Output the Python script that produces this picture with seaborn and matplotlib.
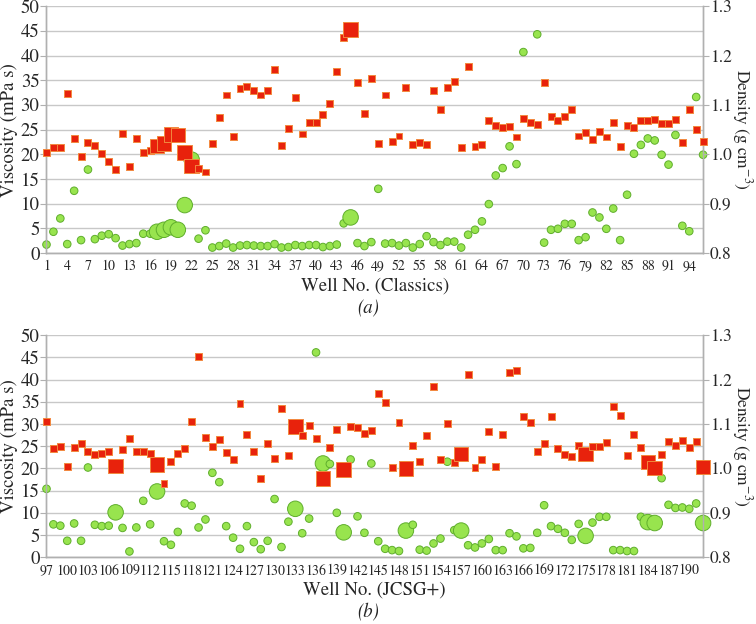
import numpy as np
import pandas as pd
import matplotlib
matplotlib.use("Agg")
import matplotlib.pyplot as plt
import seaborn as sns

sns.set_style("white")
plt.rcParams['font.family'] = ['STIXGeneral', 'DejaVu Serif']
plt.rcParams['mathtext.fontset'] = 'stix'

# Classics screen, wells 1-96
wells_a = list(range(1, 97))
visc_a = [1.7, 4.3, 7.0, 1.8, 12.6, 2.6, 16.9, 2.8, 3.5, 3.8,
          3.0, 1.5, 1.8, 2.0, 3.9, 3.9, 4.3, 4.7, 5.2, 4.7,
          9.7, 18.9, 2.9, 4.6, 1.1, 1.4, 1.9, 1.1, 1.5, 1.6,
          1.5, 1.4, 1.4, 1.8, 1.1, 1.2, 1.6, 1.4, 1.6, 1.6,
          1.2, 1.4, 1.7, 6.0, 7.2, 2.0, 1.4, 2.2, 13.0, 1.9,
          2.0, 1.5, 2.0, 1.1, 1.8, 3.4, 2.2, 1.6, 2.3, 2.3,
          1.1, 3.7, 4.7, 6.4, 9.9, 15.7, 17.2, 21.6, 18.0, 40.7,
          np.nan, 44.3, 2.1, 4.7, 4.9, 5.9, 5.9, 2.6, 3.2, 8.2,
          7.2, 4.9, 9.0, 2.6, 11.8, 20.1, 21.9, 23.2, 22.8, 19.9,
          17.9, 23.9, 5.5, 4.4, 31.6, 19.9]
dens_a = [1.003, 1.014, 1.014, 1.124, 1.031, 0.995, 1.024, 1.018, 1.001, 0.986,
          0.969, 1.043, 0.976, 1.032, 1.003, 1.008, 1.017, 1.022, 1.040, 1.039,
          1.003, 0.976, 0.971, 0.964, 1.022, 1.075, 1.120, 1.036, 1.134, 1.138,
          1.130, 1.120, 1.130, 1.172, 1.018, 1.052, 1.115, 1.041, 1.064, 1.064,
          1.081, 1.103, 1.168, 1.236, 1.253, 1.145, 1.083, 1.153, 1.022, 1.120,
          1.026, 1.037, 1.135, 1.020, 1.024, 1.019, 1.130, 1.091, 1.136, 1.147,
          1.013, 1.178, 1.016, 1.020, 1.068, 1.059, 1.055, 1.056, 1.035, 1.072,
          1.065, 1.061, 1.145, 1.076, 1.069, 1.076, 1.090, 1.037, 1.044, 1.030,
          1.047, 1.035, 1.064, 1.016, 1.059, 1.054, 1.068, 1.068, 1.071, 1.063,
          1.063, 1.070, 1.023, 1.091, 1.050, 1.026]
big_a = [17, 18, 19, 20, 21, 22, 45]

# JCSG+ screen, wells 97-192
wells_b = list(range(97, 193))
visc_b = [15.4, 7.4, 7.1, 3.7, 7.6, 3.7, 20.2, 7.3, 7.0, 7.1,
          10.1, 6.6, 1.3, 6.7, 12.7, 7.4, 14.8, 3.6, 2.8, 5.7,
          12.1, 11.6, 6.7, 8.5, 19.0, 16.9, 7.0, 4.4, 1.9, 7.0,
          3.4, 1.8, 3.7, 13.1, 2.3, 8.0, 10.9, 5.4, 8.7, 46.1,
          21.1, 21.0, 10.0, 5.6, 22.0, 9.2, 5.5, 21.1, 3.6, 1.9,
          1.6, 1.4, 6.0, 7.3, 1.7, 1.5, 3.1, 4.2, 21.5, 6.1,
          6.0, 2.7, 2.2, 3.1, 4.1, 1.6, 1.6, 5.4, 4.7, 2.0,
          2.1, 5.5, 11.7, 7.0, 6.4, 5.5, 3.9, 7.5, 4.8, 7.8,
          9.1, 9.1, 1.6, 1.6, 1.4, 1.4, 9.1, 7.9, 7.7, 17.8,
          11.8, 11.1, 11.2, 10.9, 12.1, 7.7]
dens_b = [1.105, 1.044, 1.050, 1.004, 1.046, 1.057, 1.038, 1.032, 1.034, 1.039,
          1.005, 1.042, 1.068, 1.038, 1.038, 1.033, 1.009, 0.965, 1.015, 1.034,
          1.044, 1.105, 1.251, 1.069, 1.049, 1.066, 1.035, 1.021, 1.146, 1.077,
          1.038, 0.978, 1.057, 1.022, 1.135, 1.030, 1.094, 1.075, 1.097, 1.068,
          0.977, 1.047, 1.088, 0.998, 1.094, 1.092, 1.079, 1.085, 1.168, 1.148,
          1.001, 1.104, 1.000, 1.052, 1.016, 1.074, 1.184, 1.021, 1.100, 1.014,
          1.032, 1.212, 1.001, 1.020, 1.083, 1.004, 1.077, 1.215, 1.221, 1.116,
          1.104, 1.038, 1.056, 1.117, 1.044, 1.032, 1.027, 1.051, 1.032, 1.049,
          1.050, 1.058, 1.139, 1.119, 1.028, 1.077, 1.046, 1.014, 1.001, 1.032,
          1.060, 1.052, 1.063, 1.048, 1.061, 1.003]
big_b = [107, 113, 133, 137, 140, 149, 157, 175, 184, 185, 192]

GRID = '#c8c8c8'
SPINE = '#b0b0b0'


def draw_panel(ax, wells, visc, dens, big, xlabel, tag):
    df = pd.DataFrame({'well': wells, 'visc': visc, 'dens': dens})
    df['big'] = df['well'].isin(big)

    ax.set_xlim(wells[0], wells[-1])
    ax.set_ylim(0, 50)
    ax.set_yticks(np.arange(0, 51, 5))
    ax.yaxis.grid(True, color=GRID, lw=1.0)
    ax.set_axisbelow(True)

    # viscosity: green circles on the left axis
    sns.scatterplot(data=df, x='well', y='visc', size='big',
                    sizes={False: 30, True: 125}, size_order=[True, False],
                    marker='o', color='#98e44e', edgecolor='#5fae2c',
                    linewidth=0.7, legend=False, clip_on=False, zorder=3, ax=ax)

    # density: red squares on the right axis
    ax2 = ax.twinx()
    sns.scatterplot(data=df, x='well', y='dens', size='big',
                    sizes={False: 25, True: 110}, size_order=[True, False],
                    marker='s', color='#e8220c', edgecolor='#f2893f',
                    linewidth=0.7, legend=False, clip_on=False, zorder=4, ax=ax2)
    ax2.set_ylim(0.8, 1.3)
    ax2.set_yticks([0.8, 0.9, 1.0, 1.1, 1.2, 1.3])
    ax2.set_yticklabels(['0.8', '0.9', '1.0', '1.1', '1.2', '1.3'])
    ax2.set_xlim(wells[0], wells[-1])

    ax.set_xticks(wells[::3])
    ax.tick_params(axis='x', labelsize=10, length=3, color=SPINE, pad=2)
    ax.tick_params(axis='y', labelsize=13.5, length=4, color=SPINE, pad=1)
    ax2.tick_params(axis='y', labelsize=12.5, length=4, color=SPINE, pad=1)

    for a in (ax, ax2):
        a.spines['top'].set_visible(False)
        for s in ('left', 'right', 'bottom'):
            a.spines[s].set_color(SPINE)
            a.spines[s].set_linewidth(1.0)

    ax.set_xlabel(xlabel, fontsize=13.5, labelpad=3)
    ax.set_ylabel('Viscosity (mPa s)', fontsize=13.5, labelpad=2)
    ax2.set_ylabel('Density (g cm$^{-3}$)', fontsize=12.5, rotation=270,
                   ha='center', va='center')
    ax2.yaxis.set_label_coords(1.059, 0.5)
    ax2.set_xlabel('')
    ax.text(0.49, -0.225 if tag == '(a)' else -0.245, tag, transform=ax.transAxes,
            ha='center', va='center', fontsize=13.5, style='italic')


fig = plt.figure(figsize=(7.56, 6.24), dpi=100)
ax_a = fig.add_axes([0.0615, 0.5946, 0.8685, 0.3955])
ax_b = fig.add_axes([0.0615, 0.1070, 0.8685, 0.3560])

draw_panel(ax_a, wells_a, visc_a, dens_a, big_a, 'Well No. (Classics)', '(a)')
draw_panel(ax_b, wells_b, visc_b, dens_b, big_b, 'Well No. (JCSG+)', '(b)')

fig.savefig('out.png', dpi=100)
